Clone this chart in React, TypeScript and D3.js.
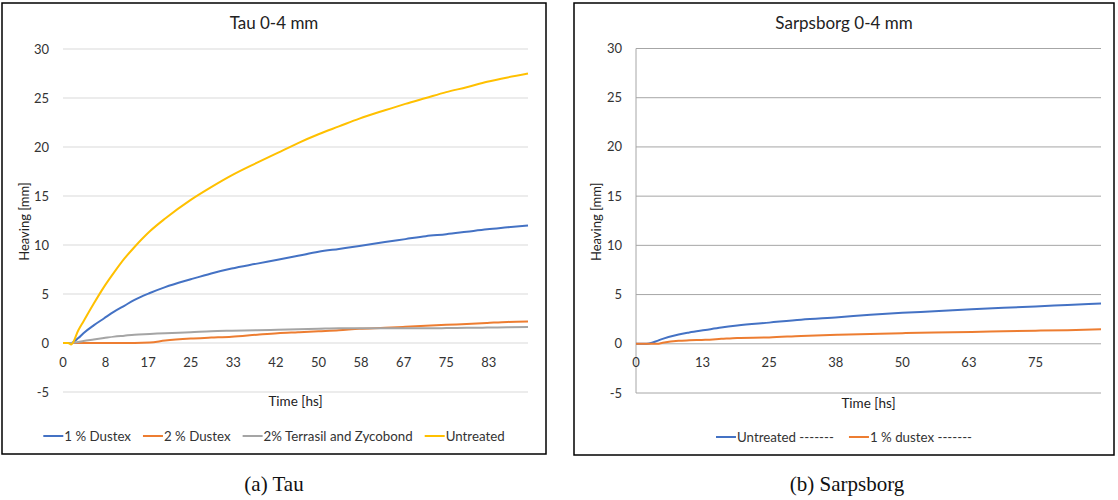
import React, { useEffect, useRef } from 'react'
import * as d3 from 'd3'

// ---- Tau 0-4 mm ----
const tauHours = [0, 1, 1.6, 3, 4, 6, 8, 10, 12, 14, 17, 20, 25, 29, 33, 38, 42, 46, 50, 54, 58, 63, 67, 71, 75, 79, 83, 87, 91]
const tauDustex1 = [0, 0, 0, 0.5, 1.0, 1.8, 2.5, 3.2, 3.8, 4.4, 5.1, 5.7, 6.5, 7.1, 7.6, 8.1, 8.5, 8.9, 9.3, 9.6, 9.9, 10.3, 10.6, 10.9, 11.1, 11.35, 11.6, 11.8, 12.0]
const tauDustex2 = [0, 0, 0, 0, 0, 0, 0, 0, 0, 0, 0.05, 0.25, 0.45, 0.55, 0.65, 0.85, 1.0, 1.1, 1.2, 1.3, 1.45, 1.55, 1.65, 1.75, 1.85, 1.95, 2.05, 2.15, 2.2]
const tauTerrasil = [0, 0, 0, 0.1, 0.2, 0.35, 0.5, 0.65, 0.75, 0.85, 0.92, 1.0, 1.1, 1.2, 1.25, 1.3, 1.35, 1.4, 1.45, 1.5, 1.5, 1.5, 1.5, 1.5, 1.52, 1.55, 1.57, 1.6, 1.62]
const tauUntreated = [0, 0, -0.15, 1.3, 2.2, 4.0, 5.7, 7.2, 8.6, 9.8, 11.4, 12.7, 14.6, 15.9, 17.1, 18.4, 19.4, 20.4, 21.3, 22.1, 22.9, 23.75, 24.4, 25.0, 25.6, 26.1, 26.65, 27.1, 27.5]
const tauTicks = d3.range(0, 11).map(k => k * 25 / 3)

// ---- Sarpsborg 0-4 mm ----
const sarpHours = [0, 2, 3, 4, 5, 8, 10, 13, 16, 19, 25, 31, 38, 44, 50, 56, 63, 69, 75, 81, 87.3]
const sarpUntreated = [0, 0, 0.1, 0.3, 0.5, 0.95, 1.15, 1.4, 1.65, 1.85, 2.15, 2.45, 2.7, 2.95, 3.15, 3.3, 3.5, 3.65, 3.8, 3.95, 4.1]
const sarpDustex1 = [0, 0, 0, 0, 0.1, 0.3, 0.35, 0.4, 0.5, 0.6, 0.65, 0.8, 0.92, 1.0, 1.08, 1.15, 1.2, 1.27, 1.33, 1.38, 1.48]
const sarpTicks = d3.range(0, 7).map(k => k * 12.5)

const yTicks = [-5, 0, 5, 10, 15, 20, 25, 30]

const FONT = 'Lato, "Open Sans", sans-serif'

type Series = { name: string; color: string; values: number[] }

type PanelProps = {
    box: { x: number; y: number; w: number; h: number }
    plot: { left: number; right: number; top: number; bottom: number }
    title: string
    hours: number[]
    xMax: number
    xTicks: number[]
    series: Series[]
    gridColor: string
    axisLine: boolean
    yLabelX: number
    xLabelY: number
    legendY: number
    legendGap: number
}

const Panel = (props: PanelProps) => {
    const gRef = useRef<SVGGElement>(null)

    useEffect(() => {
        const g = d3.select(gRef.current)
        g.selectAll('*').remove()
        const { box, plot } = props

        const x = d3.scaleLinear([0, props.xMax], [plot.left, plot.right])
        const y = d3.scaleLinear([-5, 30], [plot.bottom, plot.top])

        g.append('rect')
            .attr('x', box.x).attr('y', box.y)
            .attr('width', box.w).attr('height', box.h)
            .attr('fill', '#fff').attr('stroke', '#000').attr('stroke-width', 1.5)

        // gridlines
        g.selectAll('line.grid')
            .data(yTicks)
            .join('line')
            .attr('class', 'grid')
            .attr('x1', plot.left).attr('x2', plot.right)
            .attr('y1', d => y(d)).attr('y2', d => y(d))
            .attr('stroke', props.gridColor).attr('stroke-width', 1)

        if (props.axisLine) {
            g.append('line')
                .attr('x1', plot.left).attr('x2', plot.left)
                .attr('y1', plot.top).attr('y2', plot.bottom)
                .attr('stroke', props.gridColor)
        }

        // y tick labels
        g.selectAll('text.ytick')
            .data(yTicks)
            .join('text')
            .attr('class', 'ytick')
            .attr('x', plot.left - 14)
            .attr('y', d => y(d))
            .attr('dy', '0.35em')
            .attr('text-anchor', 'end')
            .attr('font-size', 13)
            .attr('fill', '#333')
            .text(d => d)

        // x tick labels sit under the zero line
        g.selectAll('text.xtick')
            .data(props.xTicks)
            .join('text')
            .attr('class', 'xtick')
            .attr('x', d => x(d))
            .attr('y', y(0) + 19)
            .attr('dy', '0.35em')
            .attr('text-anchor', 'middle')
            .attr('font-size', 13)
            .attr('fill', '#333')
            .text(d => Math.round(d))

        const line = d3.line<number>()
            .x((_, i) => x(props.hours[i]))
            .y(d => y(d))
            .curve(d3.curveMonotoneX)

        props.series.forEach(s => {
            g.append('path')
                .attr('d', line(s.values))
                .attr('fill', 'none')
                .attr('stroke', s.color)
                .attr('stroke-width', 2)
                .attr('stroke-linejoin', 'round')
        })

        g.append('text')
            .attr('x', box.x + box.w / 2)
            .attr('y', 29)
            .attr('text-anchor', 'middle')
            .attr('font-size', 17)
            .attr('fill', '#222')
            .text(props.title)

        g.append('text')
            .attr('transform', `translate(${props.yLabelX},${(plot.top + plot.bottom) / 2 + 1}) rotate(-90)`)
            .attr('dy', '0.35em')
            .attr('text-anchor', 'middle')
            .attr('font-size', 13)
            .attr('fill', '#222')
            .text('Heaving [mm]')

        g.append('text')
            .attr('x', (plot.left + plot.right) / 2)
            .attr('y', props.xLabelY)
            .attr('text-anchor', 'middle')
            .attr('font-size', 13.5)
            .attr('fill', '#222')
            .text('Time [hs]')

        // legend, centered under the plot
        const legend = g.append('g')
        let cx = 0
        props.series.forEach((s, i) => {
            const item = legend.append('g').attr('transform', `translate(${cx},0)`)
            item.append('line')
                .attr('x1', 0).attr('x2', 20)
                .attr('stroke', s.color).attr('stroke-width', 2)
            const t = item.append('text')
                .attr('x', 21).attr('dy', '0.35em')
                .attr('font-size', 13.3)
                .attr('fill', '#333')
                .text(s.name)
            const w = (t.node() as SVGTextElement).getComputedTextLength()
            cx += 21 + w + (i < props.series.length - 1 ? props.legendGap : 0)
        })
        const mid = (box.x + box.x + box.w) / 2
        legend.attr('transform', `translate(${mid - cx / 2},${props.legendY})`)
    }, [props])

    return <g ref={gRef} fontFamily={FONT}></g>
}

const App = () => {
    const tauSeries: Series[] = [
        { name: '1 % Dustex', color: '#4472C4', values: tauDustex1 },
        { name: '2 % Dustex', color: '#ED7D31', values: tauDustex2 },
        { name: '2% Terrasil and Zycobond', color: '#A5A5A5', values: tauTerrasil },
        { name: 'Untreated', color: '#FFC000', values: tauUntreated },
    ]
    const sarpSeries: Series[] = [
        { name: 'Untreated -------', color: '#4472C4', values: sarpUntreated },
        { name: '1 % dustex -------', color: '#ED7D31', values: sarpDustex1 },
    ]

    return (
        <svg width={1118} height={500} style={{ position: 'absolute', left: 0, top: 0, background: '#fff' }}>
            <Panel
                box={{ x: 2, y: 3, w: 544, h: 451 }}
                plot={{ left: 63, right: 528, top: 49, bottom: 392 }}
                title="Tau 0-4 mm"
                hours={tauHours}
                xMax={91}
                xTicks={tauTicks}
                series={tauSeries}
                gridColor="#d9d9d9"
                axisLine={false}
                yLabelX={24}
                xLabelY={406}
                legendY={436}
                legendGap={12}
            />
            <Panel
                box={{ x: 574, y: 3, w: 540, h: 452 }}
                plot={{ left: 636, right: 1101, top: 48.5, bottom: 393 }}
                title="Sarpsborg 0-4 mm"
                hours={sarpHours}
                xMax={87.3}
                xTicks={sarpTicks}
                series={sarpSeries}
                gridColor="#a6a6a6"
                axisLine={true}
                yLabelX={596}
                xLabelY={408}
                legendY={437}
                legendGap={15}
            />
            <text x={274} y={491} textAnchor="middle" fontFamily='"Liberation Serif", serif' fontSize={21} fill="#111">(a) Tau</text>
            <text x={847} y={491} textAnchor="middle" fontFamily='"Liberation Serif", serif' fontSize={21} fill="#111">(b) Sarpsborg</text>
        </svg>
    )
}

export default App
